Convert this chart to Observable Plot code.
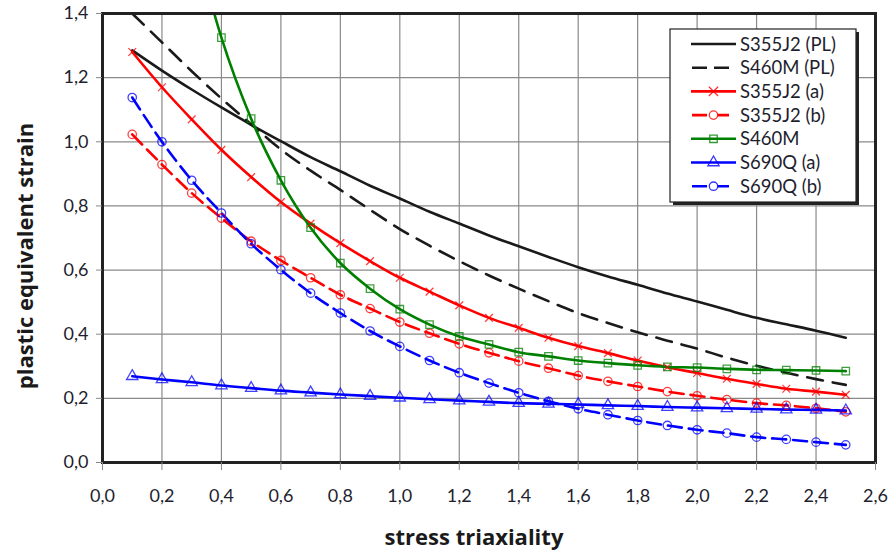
<!DOCTYPE html>
<html><head><meta charset="utf-8">
<script src="https://cdn.jsdelivr.net/npm/d3@7"></script>
<script src="https://cdn.jsdelivr.net/npm/@observablehq/plot@0.6"></script>
<style>
body{margin:0;background:#fff;}
#chart svg{display:block;}
</style>
</head><body><div id="chart"></div>
<script>
const triaxiality = [0.1,0.2,0.3,0.4,0.5,0.6,0.7,0.8,0.9,1.0,1.1,1.2,1.3,1.4,1.5,1.6,1.7,1.8,1.9,2.0,2.1,2.2,2.3,2.4,2.5];
const s355pl  = [1.285,1.222,1.163,1.107,1.053,1.002,0.952,0.908,0.863,0.823,0.782,0.745,0.708,0.674,0.641,0.609,0.580,0.554,0.527,0.502,0.476,0.451,0.431,0.411,0.389];
const s460pl  = [1.40,1.31,1.22,1.135,1.055,0.976,0.91,0.85,0.788,0.728,0.676,0.628,0.583,0.542,0.503,0.466,0.435,0.406,0.38,0.355,0.327,0.302,0.28,0.26,0.242];
const s355a   = [1.28,1.17,1.07,0.975,0.89,0.812,0.745,0.684,0.628,0.576,0.533,0.49,0.451,0.42,0.389,0.363,0.341,0.318,0.297,0.279,0.261,0.245,0.23,0.221,0.211];
const s355b   = [1.023,0.929,0.84,0.762,0.69,0.63,0.576,0.523,0.48,0.438,0.403,0.37,0.342,0.316,0.294,0.271,0.253,0.237,0.221,0.208,0.196,0.185,0.178,0.169,0.158];
const s460m   = [null,null,1.66,1.325,1.072,0.88,0.732,0.622,0.542,0.478,0.43,0.393,0.368,0.344,0.331,0.318,0.31,0.303,0.298,0.296,0.292,0.289,0.288,0.287,0.285];
const s690a   = [0.269,0.259,0.25,0.24,0.232,0.224,0.218,0.212,0.207,0.202,0.197,0.193,0.189,0.185,0.183,0.181,0.178,0.176,0.173,0.171,0.169,0.167,0.165,0.164,0.162];
const s690b   = [1.138,1.0,0.88,0.778,0.682,0.601,0.528,0.466,0.41,0.362,0.318,0.28,0.2475,0.2175,0.191,0.1675,0.149,0.131,0.1155,0.102,0.0915,0.079,0.072,0.0635,0.055];
const seriesNames = ["S355J2 (PL)","S460M (PL)","S355J2 (a)","S355J2 (b)","S460M","S690Q (a)","S690Q (b)"];
const xTicks = [0,0.2,0.4,0.6,0.8,1.0,1.2,1.4,1.6,1.8,2.0,2.2,2.4,2.6];
const yTicks = [0,0.2,0.4,0.6,0.8,1.0,1.2,1.4];
const xTitle = "stress triaxiality";
const yTitle = "plastic equivalent strain";

const allValues = [s355pl,s460pl,s355a,s355b,s460m,s690a,s690b];
const styles = [
  {color:"#1a1a1a", dash:null, symbol:null},
  {color:"#1a1a1a", dash:"16,10", symbol:null},
  {color:"#ff0000", dash:null, symbol:"times", r:3.6},
  {color:"#ff0000", dash:"14,7", symbol:"circle", r:4.2},
  {color:"#008000", dash:null, symbol:"square", r:4.2},
  {color:"#0000ff", dash:null, symbol:"triangle", r:4.2},
  {color:"#0000ff", dash:"14,7", symbol:"circle", r:4.2}
];
function rows(values, name){
  return triaxiality.map((x,i)=>({x, y: values[i], name})).filter(d => d.y != null);
}
const fmt = d => d.toFixed(1).replace(".", ",");
const marks = [
  Plot.gridX(xTicks, {stroke:"#8a8a8a", strokeOpacity:1, strokeWidth:1.2}),
  Plot.gridY(yTicks, {stroke:"#8a8a8a", strokeOpacity:1, strokeWidth:1.2}),
];
allValues.forEach((vals, i) => {
  const st = styles[i];
  const data = rows(vals, seriesNames[i]);
  marks.push(Plot.line(data, {x:"x", y:"y", stroke: st.color, strokeWidth: 2.6, strokeDasharray: st.dash, curve:"monotone-x", clip:true}));
});
allValues.forEach((vals, i) => {
  const st = styles[i];
  if (!st.symbol) return;
  const data = rows(vals, seriesNames[i]).filter(d => d.y <= 1.4);
  marks.push(Plot.dot(data, {x:"x", y:"y", symbol: st.symbol, r: st.r, stroke: st.color, strokeOpacity:0.75, strokeWidth:1.3, fill:"none"}));
});
marks.push(Plot.frame({stroke:"#222", strokeWidth:3}));
marks.push(Plot.axisX({ticks:xTicks, tickSize:8, tickFormat:() => "", stroke:"#888", label:null}));
marks.push(Plot.axisX({ticks:xTicks, tickSize:0, tickPadding:27, tickFormat:fmt, fill:"#1e1e2e", fontSize:18, label:null}));
marks.push(Plot.axisY({ticks:yTicks, tickSize:6, tickFormat:() => "", stroke:"#888", label:null}));
marks.push(Plot.axisY({ticks:yTicks, tickSize:0, tickPadding:14, tickFormat:fmt, fill:"#1e1e2e", fontSize:18, label:null}));

const chart = Plot.plot({
  width: 891, height: 550,
  marginLeft: 102, marginRight: 16, marginTop: 13, marginBottom: 88,
  x: {domain:[0,2.6]},
  y: {domain:[0,1.4]},
  style: {fontFamily:"Lato, 'Open Sans', sans-serif", background:"#fff"},
  marks
});
document.getElementById("chart").appendChild(chart);

// titles and legend
const svg = d3.select(chart);
svg.append("text").text(xTitle)
  .attr("x", 474).attr("y", 545).attr("text-anchor","middle")
  .attr("font-family","'Open Sans', sans-serif").attr("font-weight","bold").attr("font-size",22).attr("fill","#1a1a1a");
svg.append("text").text(yTitle)
  .attr("transform","translate(33,256) rotate(-90)").attr("text-anchor","middle")
  .attr("font-family","'Open Sans', sans-serif").attr("font-weight","bold").attr("font-size",22).attr("fill","#1a1a1a");

const lg = svg.append("g");
lg.append("rect").attr("x",673).attr("y",32).attr("width",186).attr("height",173).attr("fill","#222");
lg.append("rect").attr("x",670).attr("y",29).attr("width",186).attr("height",173).attr("fill","#fff").attr("stroke","#222").attr("stroke-width",1.2);
const symMap = {times:d3.symbolTimes, circle:d3.symbolCircle, square:d3.symbolSquare, triangle:d3.symbolTriangle};
seriesNames.forEach((name, i) => {
  const st = styles[i];
  const cy = 44 + i * 23.7;
  lg.append("line").attr("x1",691).attr("x2",736).attr("y1",cy).attr("y2",cy)
    .attr("stroke",st.color).attr("stroke-width",2.6).attr("stroke-dasharray", st.dash ? "15,7" : null)
    .attr("stroke-dashoffset", st.dash ? -1 : null);
  if (st.symbol) {
    const size = Math.PI * st.r * st.r * (st.symbol === "times" ? 1.4 : 1);
    lg.append("path").attr("d", d3.symbol(symMap[st.symbol], size)())
      .attr("transform", `translate(713.5,${cy})`).attr("fill", st.dash ? "#fff" : "none")
      .attr("stroke", st.color).attr("stroke-opacity",0.8).attr("stroke-width",1.3);
  }
  lg.append("text").text(name).attr("x",740).attr("y",cy+6.5).attr("text-anchor","start")
    .attr("font-family","Lato, sans-serif").attr("font-size",18.5).attr("fill","#1e1e2e");
});
</script>
</body></html>
